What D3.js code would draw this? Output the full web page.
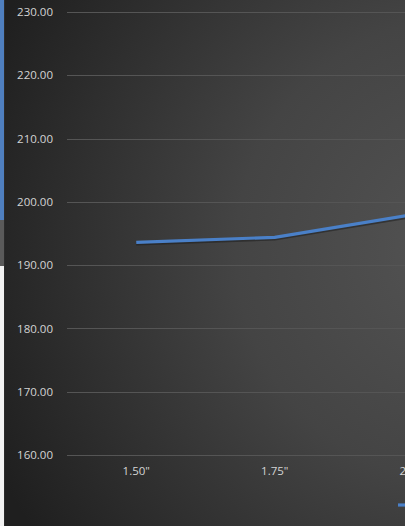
<!DOCTYPE html>
<html>
<head>
<meta charset="utf-8">
<script src="https://cdn.jsdelivr.net/npm/d3@7"></script>
<style>
  html, body { margin: 0; padding: 0; background: #fff; }
  svg { display: block; }
</style>
</head>
<body>
<div id="chart"></div>
<script>
// values
var categories = ['1.50"', '1.75"', '2.00"'];
var values     = [193.6, 194.4, 198.0];
var yTicks     = [160, 170, 180, 190, 200, 210, 220, 230];

var W = 405, H = 526;

var svg = d3.select("#chart").append("svg")
  .attr("width", W)
  .attr("height", H);

var defs = svg.append("defs");
var grad = defs.append("radialGradient")
  .attr("id", "bg")
  .attr("gradientUnits", "userSpaceOnUse")
  .attr("cx", 470).attr("cy", 250).attr("r", 520);
grad.append("stop").attr("offset", "0%").attr("stop-color", "#545454");
grad.append("stop").attr("offset", "45%").attr("stop-color", "#444444");
grad.append("stop").attr("offset", "100%").attr("stop-color", "#1f1f1f");

var clip = defs.append("clipPath").attr("id", "clip");
clip.append("rect").attr("x", 5).attr("y", 0).attr("width", W - 5).attr("height", H);

// chart background
svg.append("rect")
  .attr("x", 5).attr("y", 0)
  .attr("width", W - 5).attr("height", H)
  .attr("fill", "url(#bg)");

// strip of the neighbouring window on the left edge
svg.append("rect").attr("x", 0).attr("y", 0).attr("width", 4).attr("height", 220).attr("fill", "#4f7fbf");
svg.append("rect").attr("x", 0).attr("y", 220).attr("width", 4).attr("height", 46).attr("fill", "#5a5a5a");
svg.append("rect").attr("x", 0).attr("y", 266).attr("width", 4).attr("height", H - 266).attr("fill", "#f2f2f2");
svg.append("rect").attr("x", 4).attr("y", 0).attr("width", 1).attr("height", H).attr("fill", "#2b2b2b");

var plotLeft = 67, step = 138.5;

var x = d3.scaleBand()
  .domain(categories)
  .range([plotLeft, plotLeft + step * categories.length]);

var y = d3.scaleLinear()
  .domain([160, 230])
  .range([455, 12]);

var g = svg.append("g").attr("clip-path", "url(#clip)");

// gridlines
g.selectAll("line.grid")
  .data(yTicks)
  .enter().append("line")
  .attr("class", "grid")
  .attr("x1", plotLeft).attr("x2", W + 100)
  .attr("y1", function(d) { return Math.round(y(d)) + 0.5; })
  .attr("y2", function(d) { return Math.round(y(d)) + 0.5; })
  .attr("stroke", "#555555")
  .attr("stroke-width", 1);

// y axis labels
var yAxis = d3.axisLeft(y)
  .tickValues(yTicks)
  .tickFormat(d3.format(".2f"))
  .tickSize(0)
  .tickPadding(0);

var ya = g.append("g")
  .attr("transform", "translate(53,0)")
  .call(yAxis);
ya.select(".domain").remove();
ya.selectAll("text")
  .attr("fill", "#d4d4d4")
  .attr("font-family", "'Open Sans', sans-serif")
  .attr("font-size", "11.5px");

// x axis labels
var xAxis = d3.axisBottom(x).tickSize(0).tickPadding(0);
var xa = g.append("g")
  .attr("transform", "translate(0,467)")
  .call(xAxis);
xa.select(".domain").remove();
xa.selectAll("text")
  .attr("fill", "#d4d4d4")
  .attr("font-family", "'Open Sans', sans-serif")
  .attr("font-size", "11.5px");

// line
var pts = categories.map(function(c, i) { return [x(c) + x.bandwidth() / 2, y(values[i])]; });
var line = d3.line();

g.append("path")
  .attr("d", line(pts))
  .attr("transform", "translate(0,1.5)")
  .attr("fill", "none")
  .attr("stroke", "#1a1a1a")
  .attr("stroke-opacity", 0.5)
  .attr("stroke-width", 3.5);

g.append("path")
  .attr("d", line(pts))
  .attr("fill", "none")
  .attr("stroke", "#4a80c8")
  .attr("stroke-width", 3.2)
  .attr("stroke-linejoin", "round");

// legend swatch (cut off at the right)
var legend = g.append("g").attr("transform", "translate(398,505)");
legend.append("line")
  .attr("x1", 0).attr("x2", 20)
  .attr("stroke", "#4a80c8")
  .attr("stroke-width", 3.2);
</script>
</body>
</html>
